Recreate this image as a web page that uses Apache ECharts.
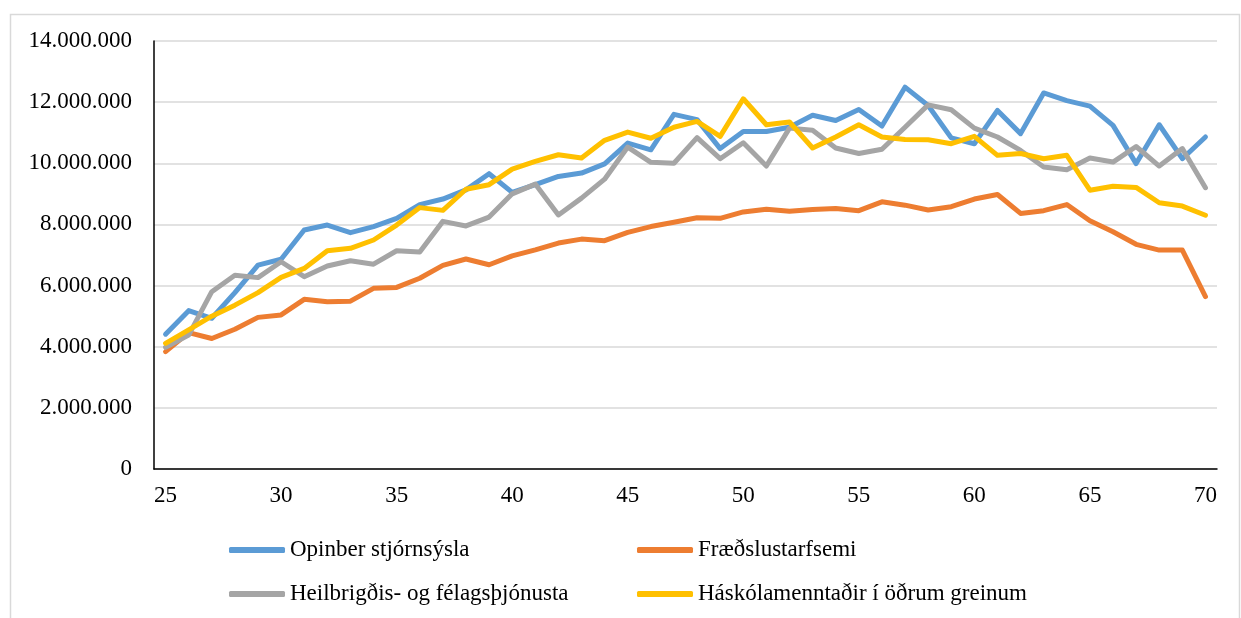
<!DOCTYPE html>
<html>
<head>
<meta charset="utf-8">
<style>
html, body { margin: 0; padding: 0; background: #fff; }
#main { width: 1241px; height: 618px; }
</style>
<script src="https://cdn.jsdelivr.net/npm/echarts@6/dist/echarts.min.js"></script>
</head>
<body>
<div id="main"></div>
<script>
// aldur (x-ás)
var ages = ['25','26','27','28','29','30','31','32','33','34','35','36','37','38','39','40',
    '41','42','43','44','45','46','47','48','49','50','51','52','53','54','55','56','57','58',
    '59','60','61','62','63','64','65','66','67','68','69','70'];

var seriesNames = ['Opinber stjórnsýsla', 'Fræðslustarfsemi',
    'Heilbrigðis- og félagsþjónusta', 'Háskólamenntaðir í öðrum greinum'];

var opinber = [4410000,5180000,4930000,5770000,6670000,6860000,7820000,7980000,7730000,7930000,8200000,8650000,
    8830000,9130000,9660000,9050000,9300000,9570000,9680000,9980000,10660000,10440000,11600000,
    11430000,10480000,11040000,11040000,11180000,11570000,11400000,11760000,11220000,12490000,11890000,
    10830000,10640000,11730000,10970000,12300000,12050000,11870000,11240000,9990000,11260000,10150000,10860000];

var fraedsla = [3840000,4460000,4270000,4570000,4960000,5040000,5550000,5470000,5490000,5910000,5940000,6240000,
    6660000,6870000,6680000,6970000,7170000,7390000,7520000,7470000,7740000,7930000,8070000,
    8220000,8200000,8410000,8500000,8430000,8490000,8520000,8450000,8740000,8630000,8470000,
    8580000,8830000,8980000,8360000,8450000,8650000,8120000,7760000,7350000,7160000,7160000,5640000];

var heilbrigdi = [3980000,4380000,5800000,6340000,6260000,6780000,6290000,6640000,6810000,6700000,7140000,7100000,
    8100000,7950000,8240000,9000000,9320000,8310000,8860000,9480000,10530000,10030000,10000000,
    10840000,10150000,10670000,9910000,11150000,11080000,10500000,10320000,10460000,11180000,11910000,
    11750000,11150000,10860000,10420000,9880000,9790000,10170000,10040000,10550000,9910000,10480000,9200000];

var haskola = [4110000,4550000,5000000,5360000,5770000,6270000,6560000,7140000,7220000,7490000,7980000,8550000,
    8460000,9150000,9300000,9810000,10060000,10280000,10170000,10750000,11020000,10820000,11180000,
    11370000,10880000,12110000,11260000,11350000,10500000,10860000,11260000,10860000,10780000,10770000,
    10640000,10880000,10260000,10320000,10150000,10260000,9120000,9250000,9210000,8710000,8600000,8300000];

var colors = ['#5B9BD5', '#ED7D31', '#A5A5A5', '#FFC000'];
var font = 'Liberation Serif, Times New Roman, serif';

function fmt(v) {   // 14000000 -> 14.000.000
    return String(v).replace(/\B(?=(\d{3})+(?!\d))/g, '.');
}

function line(name, data, color) {
    return {
        name: name,
        type: 'line',
        data: data,
        symbol: 'none',
        smooth: false,
        lineStyle: { color: color, width: 5, cap: 'round', join: 'round' },
        itemStyle: { color: color }
    };
}

var legendText = { color: '#000', fontFamily: font, fontSize: 23, lineHeight: 24 };

var myChart = echarts.init(document.getElementById('main'));
myChart.setOption({
    animation: false,
    backgroundColor: '#fff',
    graphic: [{
        type: 'rect',
        left: 8, top: 12,
        shape: { width: 1229, height: 620 },
        style: { fill: 'none', stroke: '#D9D9D9', lineWidth: 1.5 },
        silent: true
    }],
    grid: { left: 154, top: 41, right: 24, bottom: 149 },
    legend: [{
        data: [seriesNames[0], seriesNames[2]],
        orient: 'vertical',
        left: 224, top: 533,
        itemWidth: 56, itemHeight: 6, itemGap: 20,
        icon: 'roundRect',
        textStyle: legendText
    }, {
        data: [seriesNames[1], seriesNames[3]],
        orient: 'vertical',
        left: 632, top: 533,
        itemWidth: 56, itemHeight: 6, itemGap: 20,
        icon: 'roundRect',
        textStyle: legendText
    }],
    xAxis: {
        type: 'category',
        data: ages,
        boundaryGap: true,
        axisLine: { show: true, lineStyle: { color: '#000', width: 1.5 } },
        axisTick: { show: false },
        axisLabel: { interval: 4, color: '#000', fontFamily: font, fontSize: 23, margin: 15 },
        splitLine: { show: false }
    },
    yAxis: {
        type: 'value',
        min: 0, max: 14000000, interval: 2000000,
        axisLine: { show: true, lineStyle: { color: '#000', width: 1.5 } },
        axisTick: { show: false },
        axisLabel: { color: '#000', fontFamily: font, fontSize: 23, margin: 22, formatter: fmt },
        splitLine: { lineStyle: { color: '#D9D9D9', width: 1.5 } }
    },
    series: [
        line(seriesNames[0], opinber, colors[0]),
        line(seriesNames[1], fraedsla, colors[1]),
        line(seriesNames[2], heilbrigdi, colors[2]),
        line(seriesNames[3], haskola, colors[3])
    ]
});
</script>
</body>
</html>
